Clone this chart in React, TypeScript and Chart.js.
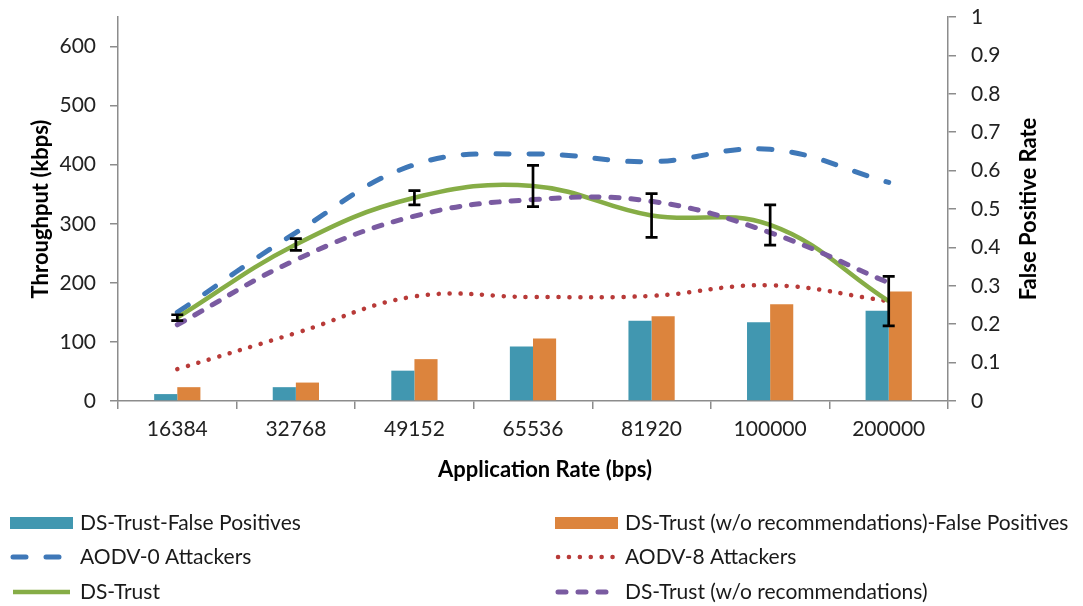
import { useEffect, useRef } from "react";
import { Chart, registerables } from "chart.js";

Chart.register(...registerables);

const categories = ["16384", "32768", "49152", "65536", "81920", "100000", "200000"];
const fpDSTrust = [0.018, 0.036, 0.079, 0.142, 0.209, 0.205, 0.235];
const fpDSTrustNoRec = [0.036, 0.048, 0.109, 0.163, 0.221, 0.252, 0.285];
const aodv0 = [150, 285, 400, 418, 405, 426, 370];
const aodv8 = [54, 115, 177, 176, 178, 196, 169];
const dsTrust = [141, 265, 344, 364, 314, 298, 169];
const dsTrustErr = [5, 10, 12, 35, 37, 34, 42];
const dsTrustNoRec = [129, 239, 313, 341, 338, 285, 200];

const FONT = "Lato, 'Open Sans', sans-serif";
const LEG_X = [10, 555];
const LEG_Y = [523, 557, 592];

const errorBarPlugin = {
  id: "errorBars",
  afterDatasetsDraw(chart: any) {
    const idx = chart.data.datasets.findIndex((d: any) => d.label === "DS-Trust");
    const meta = chart.getDatasetMeta(idx);
    const ys = chart.scales.y;
    const ctx = chart.ctx;
    ctx.save();
    ctx.strokeStyle = "#000";
    ctx.lineWidth = 2.7;
    meta.data.forEach((pt: any, i: number) => {
      const top = ys.getPixelForValue(dsTrust[i] + dsTrustErr[i]);
      const bot = ys.getPixelForValue(dsTrust[i] - dsTrustErr[i]);
      ctx.beginPath();
      ctx.moveTo(pt.x, top);
      ctx.lineTo(pt.x, bot);
      ctx.moveTo(pt.x - 6, top);
      ctx.lineTo(pt.x + 6, top);
      ctx.moveTo(pt.x - 6, bot);
      ctx.lineTo(pt.x + 6, bot);
      ctx.stroke();
    });
    ctx.restore();
  },
};

const extrasPlugin = {
  id: "extras",
  afterDraw(chart: any) {
    const ctx = chart.ctx;
    const ca = chart.chartArea;
    const midY = (ca.top + ca.bottom) / 2;
    ctx.save();
    ctx.font = `bold 22px ${FONT}`;
    ctx.fillStyle = "#000";
    ctx.textAlign = "center";
    ctx.textBaseline = "middle";
    // x axis title
    ctx.fillText("Application Rate (bps)", 545, 470);
    // left axis title
    ctx.save();
    ctx.translate(41, midY);
    ctx.rotate(-Math.PI / 2);
    ctx.fillText("Throughput (kbps)", 0, 0);
    ctx.restore();
    // right axis title
    ctx.save();
    ctx.translate(1029, midY);
    ctx.rotate(-Math.PI / 2);
    ctx.fillText("False Positive Rate", 0, 0);
    ctx.restore();
    ctx.restore();

    // legend
    chart.data.datasets.forEach((ds: any, i: number) => {
      const x = LEG_X[i % 2];
      const y = LEG_Y[Math.floor(i / 2)];
      ctx.save();
      if (ds.type === "bar") {
        ctx.fillStyle = ds.backgroundColor;
        ctx.fillRect(x, y - 6, 63, 12);
      } else {
        ctx.strokeStyle = ds.borderColor;
        ctx.lineWidth = ds.borderWidth;
        ctx.setLineDash(ds.borderDash || []);
        ctx.lineCap = ds.borderCapStyle || "butt";
        ctx.beginPath();
        ctx.moveTo(x + 3, y);
        ctx.lineTo(x + 60, y);
        ctx.stroke();
      }
      ctx.setLineDash([]);
      ctx.fillStyle = "#1a1a1a";
      ctx.font = `21px ${FONT}`;
      ctx.textAlign = "left";
      ctx.textBaseline = "middle";
      ctx.fillText(ds.label, x + 70, y);
      ctx.restore();
    });
  },
};

export default function App() {
  const ref = useRef<HTMLCanvasElement | null>(null);
  useEffect(() => {
    if (!ref.current) return;
    const axisGray = "#8c8c8c";
    const tickColor = "#222";
    const chart = new Chart(ref.current, {
      type: "bar",
      data: {
        labels: categories,
        datasets: [
          {
            type: "bar",
            label: "DS-Trust-False Positives",
            data: fpDSTrust,
            backgroundColor: "#4197b0",
            yAxisID: "y1",
            order: 10,
            categoryPercentage: 0.39,
            barPercentage: 1,
          },
          {
            type: "bar",
            label: "DS-Trust (w/o recommendations)-False Positives",
            data: fpDSTrustNoRec,
            backgroundColor: "#dc843d",
            yAxisID: "y1",
            order: 10,
            categoryPercentage: 0.39,
            barPercentage: 1,
          },
          {
            type: "line",
            label: "AODV-0 Attackers",
            data: aodv0,
            borderColor: "#3f78b8",
            borderWidth: 5,
            borderDash: [13, 20],
            borderCapStyle: "round",
            pointRadius: 0,
            tension: 0.4,
            yAxisID: "y",
            order: 4,
          },
          {
            type: "line",
            label: "AODV-8 Attackers",
            data: aodv8,
            borderColor: "#b83a38",
            borderWidth: 4.5,
            borderDash: [0.1, 10.8],
            borderCapStyle: "round",
            pointRadius: 0,
            tension: 0.4,
            yAxisID: "y",
            order: 3,
          },
          {
            type: "line",
            label: "DS-Trust",
            data: dsTrust,
            borderColor: "#86ad46",
            borderWidth: 4.5,
            pointRadius: 0,
            tension: 0.4,
            yAxisID: "y",
            order: 2,
          },
          {
            type: "line",
            label: "DS-Trust (w/o recommendations)",
            data: dsTrustNoRec,
            borderColor: "#7a5ba1",
            borderWidth: 5,
            borderDash: [8, 12],
            borderCapStyle: "round",
            pointRadius: 0,
            tension: 0.4,
            yAxisID: "y",
            order: 1,
          },
        ] as any,
      },
      options: {
        animation: false,
        responsive: true,
        maintainAspectRatio: false,
        layout: { padding: { top: 17, bottom: 115, left: 0, right: 0 } },
        plugins: { legend: { display: false }, tooltip: { enabled: false } },
        scales: {
          x: {
            offset: true,
            grid: { drawOnChartArea: false, drawTicks: true, tickLength: 8, color: axisGray, offset: true, lineWidth: 1.5 },
            border: { color: axisGray, width: 1.5 },
            ticks: { font: { family: FONT, size: 21 }, color: tickColor, padding: 8, maxRotation: 0 },
            afterFit: (s: any) => {
              s.height = 90;
              s.paddingLeft = 0;
              s.paddingRight = 0;
            },
          },
          y: {
            position: "left",
            min: 0,
            max: 650,
            grid: { drawOnChartArea: false, drawTicks: true, tickLength: 8, color: axisGray, lineWidth: 1.5 },
            border: { color: axisGray, width: 1.5 },
            ticks: { stepSize: 100, includeBounds: false, font: { family: FONT, size: 21 }, color: tickColor, padding: 14 },
            afterFit: (s: any) => {
              s.width = 118;
              s.paddingTop = 0;
              s.paddingBottom = 0;
            },
          },
          y1: {
            position: "right",
            min: 0,
            max: 1,
            grid: { drawOnChartArea: false, drawTicks: true, tickLength: 8, color: axisGray, lineWidth: 1.5 },
            border: { color: axisGray, width: 1.5 },
            ticks: {
              stepSize: 0.1,
              font: { family: FONT, size: 21 },
              color: tickColor,
              padding: 15,
              callback: (v: any) => String(Math.round(Number(v) * 10) / 10),
            },
            afterFit: (s: any) => {
              s.width = 135;
              s.paddingTop = 0;
              s.paddingBottom = 0;
            },
          },
        },
      } as any,
      plugins: [errorBarPlugin, extrasPlugin],
    });
    return () => chart.destroy();
  }, []);

  return (
    <div style={{ position: "fixed", left: 0, top: 0, width: 1083, height: 606, background: "#fff" }}>
      <canvas ref={ref} />
    </div>
  );
}
